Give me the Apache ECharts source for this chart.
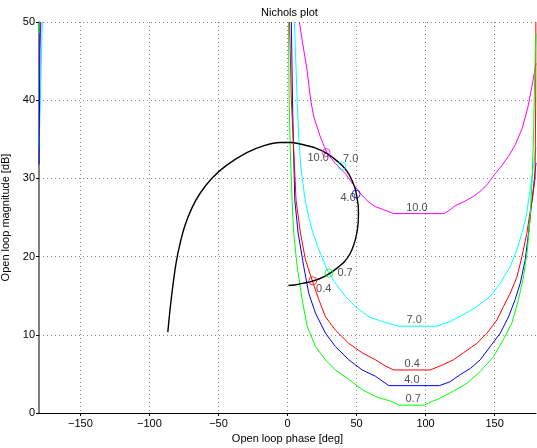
<!DOCTYPE html>
<html><head><meta charset="utf-8">
<script src="https://cdn.jsdelivr.net/npm/echarts@6/dist/echarts.min.js"></script>
<style>html,body{margin:0;padding:0;background:#fff}#c{width:537px;height:448px}</style>
</head><body><div id="c"></div>
<script>
// ---- data: [phase (deg), magnitude (dB)] ----
const freqNames = ['10.0', '7.0', '4.0', '0.4', '0.7'];

const bound10 = [[8.6,50],[10.6,47.7],[14.2,43.8],[16.8,40.0],[19.0,37.9],[23.8,35.3],[28.7,33.2],[34.7,31.9],[42.0,30.6],[46.8,29.4],[52.7,28.1],[58.6,27.0],[63.5,26.4],[69.5,26.0],[77,25.5],[113.5,25.5],[117.8,26.0],[121.4,26.5],[127.5,27.0],[134.7,27.7],[140,28.4],[145,29.3],[150,30.5],[155,31.6],[160,32.8],[165,34.3],[170,36.4],[174,39.0],[177,41.7],[180,44.7]];
const bound10Wrap = [[-180,44.7],[-178.6,50]];

const bound7 = [[5.0,50],[6.2,44],[7.2,39],[8.2,35],[9.8,31.2],[12.8,27.2],[15.2,25.2],[17.8,23.4],[22.7,20.9],[28.7,18.3],[34.7,16.6],[42.0,14.9],[49.2,13.6],[58.9,12.3],[68.6,11.7],[80.5,11.1],[108.2,11.1],[117.8,11.7],[127.5,12.6],[137.2,13.6],[146.8,14.9],[154.1,16.6],[161.3,18.7],[166.2,20.9],[169.8,23.0],[172.9,25.1],[174.6,27.2],[176.5,29.5],[178.3,31.8],[180,34.0]];
const bound7Wrap = [[-180,34.0],[-179,40],[-177.6,50]];

const bound4 = [[2.8,50],[3.6,40],[4.4,33.6],[5.3,27.2],[7.7,23.0],[11.8,18.7],[15.4,15.3],[20.2,12.8],[27.5,10.2],[34.7,8.5],[44.4,6.8],[54.1,5.5],[63.7,4.7],[73.4,3.5],[110,3.5],[117.8,4.0],[125,4.9],[132.5,5.7],[139.6,6.8],[146.8,8.5],[154.1,10.2],[160.1,12.3],[164.9,14.5],[168.6,16.6],[172.2,19.6],[174.6,23.0],[176.3,26.0],[178.3,29],[180,32]];
const bound4Wrap = [[-180,31.8],[-179.6,40],[-179.2,50]];

const bound04 = [[1.5,50],[2.8,40],[4.5,33.6],[6.2,27.2],[9.4,23.0],[13.0,19.6],[17.8,17.0],[22.7,14.5],[27.5,12.3],[34.7,10.6],[44.4,8.9],[54.1,7.7],[63.7,6.8],[71,6.0],[77,5.5],[103.3,5.5],[113,6.2],[120.2,6.8],[127.5,7.7],[137.2,8.9],[144.4,10.2],[151.7,11.9],[156.4,13.6],[161.3,15.3],[166.2,17.4],[169.8,20.0],[173.4,23.0],[175.5,25.5],[177.5,27.5],[179.3,30],[179.8,40],[179.9,50]];

const bound07 = [[0.7,50],[1.2,40],[2.0,33.6],[3.3,27.2],[4.5,23.0],[7.0,18.7],[10.6,14.5],[14.2,11.1],[20.2,8.5],[27.5,6.8],[34.7,5.5],[44.4,4.3],[54.1,3.0],[63.7,2.1],[75,1.5],[81,1.0],[99,1.0],[105,1.5],[110.6,1.9],[120.2,2.8],[130,3.8],[139.6,5.3],[149.2,7.2],[156.4,9.4],[162.5,11.5],[167.3,14.5],[170.9,17.4],[173.8,20.9],[175.8,25.1],[177.2,30],[178.3,36],[178.9,41.7],[179.5,46],[180,48.5]];
const bound07Wrap = [[-180,48.5],[-179.8,50]];

const nominalLoop = [[-86.7,10.35],[-85.1,13.2],[-83.1,16.2],[-80.7,19.2],[-77.8,21.7],[-74.2,24.0],[-69.3,26.2],[-63.3,28.1],[-54.9,30.0],[-44,31.7],[-29.5,33.3],[-17,34.2],[-5.4,34.6],[3,34.6],[11.5,34.3],[20,33.9],[28.5,33.2],[34,32.5],[39.3,31.7],[43.5,30.8],[46.6,29.8],[49,28.7],[50.2,27.7],[51.2,26.5],[51.4,25.5],[51.1,24.2],[50.2,23.0],[48.2,21.6],[45.4,20.4],[41,19.3],[35.7,18.5],[30,17.8],[23.6,17.2],[17,16.8],[11.5,16.6],[6,16.4],[0.7,16.3]];

// frequency markers on the nominal loop (same order as freqNames)
const markerPhase = [28.0, 39.3, 49.7, 18.3, 30.1];
const markerMag   = [33.3, 31.6, 28.0, 16.9, 17.9];

// bound label anchors (bottom of each bound)
const boundLabelPhase = [93.7, 91.7, 90.1, 90.3, 91.0];
const boundLabelMag   = [25.5, 11.1, 3.5, 5.5, 1.0];

// ---- styles ----
const colors = ['#ff00ff', '#00ffff', '#0000ff', '#ff0000', '#00ff00'];
const markerLabelOffsets = [[-8, 5], [9, -7], [-8, 4], [11, 8], [16, 0]];
const FONT = 'Liberation Sans, Arial, Helvetica, sans-serif';

const boundSets = [
  [bound10, bound10Wrap], [bound7, bound7Wrap], [bound4, bound4Wrap], [bound04, null], [bound07, bound07Wrap]
];

const series = [];
boundSets.forEach(function (pair, i) {
  pair.forEach(function (d) {
    if (!d) return;
    series.push({
      type: 'line', data: d, showSymbol: false, symbol: 'none', silent: true,
      lineStyle: { color: colors[i], width: 1 }, clip: true, z: 2
    });
  });
});
series.push({
  type: 'line', data: nominalLoop, showSymbol: false, symbol: 'none', smooth: 0.25,
  lineStyle: { color: '#000', width: 1.4 }, z: 3
});
series.push({
  type: 'scatter', z: 4, symbol: 'circle', symbolSize: 8,
  data: markerPhase.map(function (p, i) {
    return {
      value: [p, markerMag[i]], name: freqNames[i],
      itemStyle: { color: 'rgba(0,0,0,0)', borderColor: colors[i], borderWidth: 1 },
      label: { show: true, position: 'inside', offset: markerLabelOffsets[i], formatter: '{b}',
               color: '#222', fontSize: 11, fontFamily: FONT }
    };
  })
});
series.push({
  type: 'scatter', z: 5, symbolSize: 0,
  data: boundLabelPhase.map(function (p, i) {
    return {
      value: [p, boundLabelMag[i]], name: freqNames[i],
      label: { show: true, position: 'inside', offset: [0, -6], formatter: '{b}',
               color: '#222', fontSize: 11, fontFamily: FONT }
    };
  })
});

const chart = echarts.init(document.getElementById('c'), null, { renderer: 'canvas' });
chart.setOption({
  animation: false,
  backgroundColor: '#fff',
  title: {
    text: 'Nichols plot', left: 256, top: 2,
    textStyle: { fontSize: 11, fontWeight: 'normal', color: '#000', fontFamily: FONT }
  },
  grid: { left: 39, right: 1, top: 22, bottom: 35, containLabel: false, outerBoundsMode: 'none' },
  xAxis: {
    type: 'value', min: -180, max: 180, splitNumber: 7,
    name: 'Open loop phase [deg]', nameLocation: 'middle', nameGap: 19,
    nameTextStyle: { fontSize: 11, color: '#000', fontFamily: FONT },
    axisLine: { show: true, onZero: false, lineStyle: { color: '#000', width: 1 } },
    axisTick: { show: true, inside: false, length: 3, lineStyle: { color: '#000' } },
    axisLabel: {
      fontSize: 11, color: '#000', margin: 5, fontFamily: FONT,
      showMinLabel: false, showMaxLabel: false,
      formatter: function (v) { return v < 0 ? '\u2212' + Math.abs(v) : String(v); }
    },
    splitLine: { show: true, showMinLine: false, showMaxLine: false, lineStyle: { color: '#888', type: [1, 3], width: 1 } }
  },
  yAxis: {
    type: 'value', min: 0, max: 50, interval: 10,
    name: 'Open loop magnitude [dB]', nameLocation: 'middle', nameGap: 22,
    nameTextStyle: { fontSize: 11, color: '#000', fontFamily: FONT },
    axisLine: { show: true, onZero: false, lineStyle: { color: '#555', width: 1.5 } },
    axisTick: { show: true, inside: false, length: 3, lineStyle: { color: '#000' } },
    axisLabel: { fontSize: 11, color: '#000', margin: 4, fontFamily: FONT },
    splitLine: { show: true, showMinLine: false, lineStyle: { color: '#888', type: [1, 3], width: 1 } }
  },
  series: series
});
</script>
</body></html>
